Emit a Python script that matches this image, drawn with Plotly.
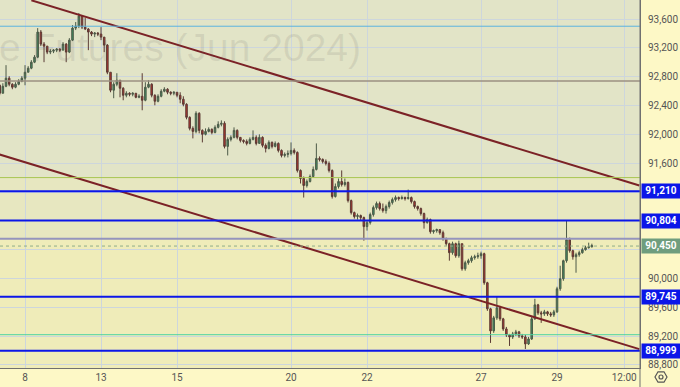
import plotly.graph_objects as go

# ---------------- data ----------------
first_open = 92681
closes = [92570, 92667, 92779, 92695, 92654, 92695, 92737, 92779, 92862, 92918,
          93001, 93071, 93419, 93252, 93224, 93141, 93154, 93168, 93182, 93168,
          93252, 93141, 93307, 93474, 93502, 93641, 93488, 93461, 93419, 93391,
          93405, 93391, 93349, 93238, 92862, 92612, 92695, 92751, 92640, 92542,
          92570, 92556, 92570, 92514, 92528, 92473, 92654, 92695, 92542, 92459,
          92528, 92598, 92626, 92584, 92570, 92584, 92542, 92487, 92417, 92236,
          92083, 92041, 92292, 92055, 92000, 92041, 92069, 92027, 92097, 92139,
          92153, 91833, 91930, 91958, 92055, 91958, 91916, 91902, 91874, 91930,
          91958, 91874, 91958, 91847, 91805, 91888, 91833, 91874, 91777, 91707,
          91721, 91735, 91777, 91749, 91499, 91387, 91290, 91346, 91415, 91513,
          91666, 91652, 91624, 91596, 91499, 91137, 91276, 91346, 91304, 91332,
          91081, 90914, 90859, 90873, 90845, 90720, 90775, 90887, 90984, 91040,
          90970, 90942, 90998, 91054, 91095, 91123, 91109, 91123, 91109, 91123,
          91067, 90998, 90970, 90901, 90775, 90817, 90650, 90664, 90678, 90636,
          90553, 90483, 90358, 90483, 90316, 90483, 90135, 90219, 90247, 90288,
          90302, 90316, 90344, 89941, 89579, 89273, 89454, 89593, 89440, 89300,
          89217, 89189, 89231, 89259, 89203, 89189, 89092, 89161, 89440, 89634,
          89523, 89509, 89537, 89509, 89495, 89537, 89857, 89996, 90247, 90539,
          90386, 90302, 90330, 90358, 90400, 90428, 90441, 90455]
highs = [92695, 92709, 92960, 92807, 92709, 92723, 92765, 92807, 92960, 92946,
         93029, 93099, 93474, 93447, 93280, 93224, 93182, 93182, 93196, 93196,
         93280, 93266, 93335, 93516, 93558, 93683, 93655, 93614, 93474, 93433,
         93419, 93419, 93488, 93349, 93252, 92862, 92723, 92848, 92751, 92654,
         92598, 92584, 92584, 92570, 92556, 92848, 92723, 92751, 92709, 92556,
         92556, 92626, 92654, 92640, 92598, 92598, 92584, 92584, 92528, 92431,
         92250, 92111, 92320, 92306, 92069, 92083, 92097, 92083, 92125, 92181,
         92194, 92181, 91958, 91986, 92097, 92069, 91958, 91930, 91930, 91958,
         92055, 91986, 92000, 91972, 91874, 91916, 91902, 91902, 91888, 91791,
         91749, 91777, 91888, 91805, 91763, 91513, 91415, 91374, 91443, 91554,
         91874, 91694, 91666, 91652, 91624, 91513, 91318, 91387, 91499, 91387,
         91346, 91095, 90928, 90901, 90887, 90859, 90803, 90914, 91012, 91067,
         91067, 91040, 91026, 91081, 91123, 91151, 91137, 91151, 91137, 91234,
         91137, 91081, 91012, 90984, 90914, 90845, 90831, 90678, 90692, 90678,
         90664, 90567, 90497, 90511, 90497, 90525, 90483, 90247, 90274, 90316,
         90330, 90358, 90372, 90358, 89954, 89593, 89481, 89746, 89621, 89454,
         89328, 89231, 89259, 89287, 89273, 89231, 89217, 89189, 89467, 89718,
         89648, 89551, 89565, 89551, 89537, 89565, 89885, 90177, 90261, 90803,
         90567, 90400, 90358, 90386, 90428, 90455, 90497, 90483]
lows = [92542, 92570, 92654, 92667, 92626, 92640, 92681, 92723, 92681, 92862,
        92904, 92988, 93057, 93224, 93001, 93113, 93113, 93127, 93141, 93141,
        93168, 93001, 93127, 93294, 93447, 93474, 93461, 93447, 93168, 93363,
        93349, 93363, 93307, 93141, 92834, 92584, 92501, 92667, 92514, 92473,
        92514, 92528, 92528, 92501, 92501, 92334, 92459, 92640, 92514, 92403,
        92445, 92514, 92584, 92556, 92542, 92542, 92514, 92431, 92389, 92208,
        92055, 91944, 92014, 92014, 91888, 91986, 92027, 92000, 92014, 92083,
        92111, 91805, 91707, 91902, 91944, 91930, 91888, 91874, 91847, 91861,
        91916, 91847, 91874, 91819, 91749, 91791, 91805, 91819, 91749, 91680,
        91680, 91680, 91707, 91721, 91471, 91318, 91123, 91262, 91332, 91401,
        91499, 91624, 91596, 91568, 91471, 91109, 91123, 91248, 91276, 91276,
        91054, 90887, 90831, 90817, 90803, 90525, 90664, 90748, 90859, 90956,
        90942, 90914, 90901, 90970, 91026, 91067, 91081, 91095, 91081, 91095,
        91040, 90970, 90942, 90873, 90692, 90761, 90622, 90622, 90636, 90608,
        90525, 90455, 90247, 90330, 90288, 90288, 90108, 90108, 90191, 90219,
        90261, 90274, 90274, 89913, 89551, 89106, 89245, 89426, 89412, 89273,
        89189, 89064, 89161, 89203, 89175, 89161, 89022, 89078, 89147, 89426,
        89495, 89384, 89481, 89481, 89467, 89467, 89523, 89829, 89968, 90219,
        90358, 90261, 90080, 90302, 90344, 90386, 90414, 90428]

day_ticks = [8, 32, 56, 92, 116, 152, 176, 197.2]
day_labels = ["8", "13", "15", "20", "22", "27", "29", "12:00"]
price_ticks = [88800, 89200, 89600, 90000, 90400, 90800, 91200, 91600,
               92000, 92400, 92800, 93200, 93600]
# labels hidden behind the level boxes in the picture
price_labels = ["88,800", "89,200", "89,600", "90,000", "", "", "", "91,600",
                "92,000", "92,400", "92,800", "93,200", "93,600"]

blue_levels = [91210, 90804, 89745, 88999]
last_price = 90450
level_lightblue = 93500
level_grey = 92740
level_olive = 91400
level_purple = 90550
level_teal = 89220

upper_trend_x = [10, 202]
upper_trend_y = [93860, 91290]
lower_trend_x = [0, 202]
lower_trend_y = [91720, 89020]

# ---------------- build ----------------
opens = [first_open] + closes[:-1]
x = list(range(len(closes)))

fig = go.Figure()
fig.add_trace(go.Candlestick(
    x=x, open=opens, high=highs, low=lows, close=closes,
    increasing=dict(line=dict(color="#4d5a48", width=1), fillcolor="#3f8f60"),
    decreasing=dict(line=dict(color="#5a3a34", width=1), fillcolor="#b8342c"),
    hoverinfo="skip", whiskerwidth=0,
))
for tx, ty in [(upper_trend_x, upper_trend_y), (lower_trend_x, lower_trend_y)]:
    fig.add_trace(go.Scatter(x=tx, y=ty, mode="lines",
                             line=dict(color="#7b2226", width=2), hoverinfo="skip"))

shapes = []
ymin, ymax = 88758, 93864
# background bands
shapes.append(dict(type="rect", xref="paper", yref="y", x0=0, x1=1, y0=ymin, y1=level_purple,
                   fillcolor="#efecb9", line_width=0, layer="below"))
shapes.append(dict(type="rect", xref="paper", yref="y", x0=0, x1=1, y0=level_purple, y1=level_olive,
                   fillcolor="#e7e7c0", line_width=0, layer="below"))


def hline(y, color, width, dash="solid"):
    shapes.append(dict(type="line", xref="paper", yref="y", x0=0, x1=1, y0=y, y1=y,
                       line=dict(color=color, width=width, dash=dash), layer="above"))


hline(level_lightblue, "#5cb3e0", 1)
hline(level_grey, "#9b9182", 1.5)
hline(level_olive, "#a9c653", 1)
hline(level_purple, "#9494bd", 2)
hline(last_price, "#8fae8a", 1, "dot")
hline(level_teal, "#4fd3a2", 1)
for b in blue_levels:
    hline(b, "#0b16e8", 2)

# right axis line down through bottom strip
shapes.append(dict(type="line", xref="paper", yref="paper", x0=1, x1=1, y0=-19 / 368, y1=1,
                   line=dict(color="#707070", width=1)))
# settings hexagon
cx, cy = 661, 377
def px(xp):
    return xp / 640
def py(yp):
    return (368 - yp) / 368
hexpath = "M {},{} L {},{} L {},{} L {},{} L {},{} L {},{} Z".format(
    px(cx + 6), py(cy), px(cx + 3), py(cy - 5.2), px(cx - 3), py(cy - 5.2),
    px(cx - 6), py(cy), px(cx - 3), py(cy + 5.2), px(cx + 3), py(cy + 5.2))
shapes.append(dict(type="path", xref="paper", yref="paper", path=hexpath,
                   line=dict(color="#555555", width=1.2)))
shapes.append(dict(type="circle", xref="paper", yref="paper", x0=px(cx - 2), x1=px(cx + 2),
                   y0=py(cy + 2), y1=py(cy - 2), line=dict(color="#555555", width=1.2)))

annotations = []
for b in blue_levels:
    annotations.append(dict(xref="paper", yref="y", x=1, y=b, xanchor="left", yanchor="middle",
                            xshift=1, text="<b>{:,}</b>".format(b), showarrow=False,
                            bgcolor="#0b16e8", font=dict(color="white", size=10, family="Roboto"),
                            width=36, height=12, borderpad=1))
annotations.append(dict(xref="paper", yref="y", x=1, y=last_price, xanchor="left", yanchor="middle",
                        xshift=1, text="<b>{:,}</b>".format(last_price), showarrow=False,
                        bgcolor="#6f9d7e", font=dict(color="white", size=10, family="Roboto"),
                        width=36, height=12, borderpad=1))
annotations.append(dict(xref="paper", yref="paper", x=-0.005, y=0.87, xanchor="left",
                        yanchor="middle", text="e Futures (Jun 2024)", showarrow=False,
                        font=dict(size=39, color="rgba(90,90,90,0.12)", family="Liberation Sans")))

fig.update_layout(
    width=680, height=387, margin=dict(l=0, r=40, t=0, b=19),
    paper_bgcolor="#fdf8c6", plot_bgcolor="#e2e4c7",
    showlegend=False, hovermode=False,
    shapes=shapes, annotations=annotations,
    xaxis=dict(range=[0.1, 202.2], tickmode="array", tickvals=day_ticks, ticktext=day_labels,
               showgrid=True, gridcolor="#cdd6dc", gridwidth=1, zeroline=False,
               showline=True, linecolor="#707070", linewidth=1, ticks="",
               tickfont=dict(size=10, color="#555555", family="Roboto"),
               rangeslider=dict(visible=False), fixedrange=True),
    yaxis=dict(side="right", range=[ymin, ymax], tickmode="array", tickvals=price_ticks,
               ticktext=price_labels, showgrid=True, gridcolor="#cdd6dc", gridwidth=1,
               zeroline=False, showline=True, linecolor="#707070", linewidth=1, ticks="",
               ticklabelstandoff=5,
               tickfont=dict(size=10, color="#555555", family="Roboto"), fixedrange=True),
)

fig.write_html("out.html", config={"displayModeBar": False},
               post_script="document.body.style.margin='0';document.body.style.overflow='hidden';")
